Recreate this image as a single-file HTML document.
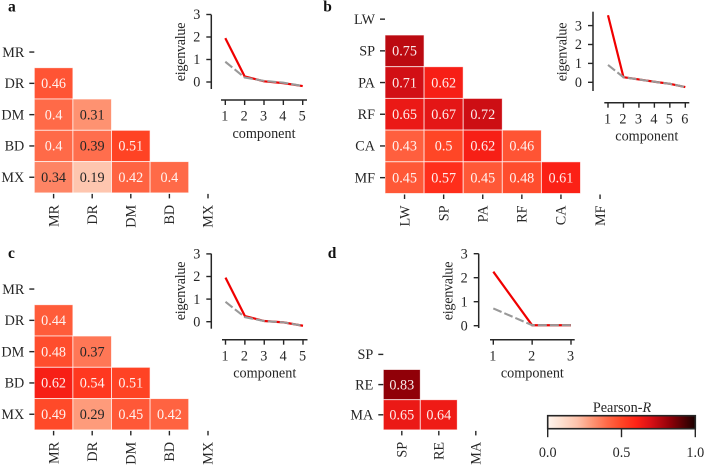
<!DOCTYPE html>
<html lang="en">
<head>
<meta charset="utf-8">
<title>Correlation matrices with eigenvalue plots</title>
<style>
html,body{margin:0;padding:0;background:#fff;}
svg{display:block;}
text{font-family:"Liberation Serif",serif;fill:#262626;font-size:14.2px;}
</style>
</head>
<body>
<svg id="chart" xmlns="http://www.w3.org/2000/svg" width="704" height="465" viewBox="0 0 704 465"></svg>
<script>
// Panel a
const labelsA = ["MR","DR","DM","BD","MX"];
const corrA = [[0.46],[0.4,0.31],[0.4,0.39,0.51],[0.34,0.19,0.42,0.4]];
const eigenA = [1.95,0.25,0.03,-0.05,-0.18];
const nullA = [0.9,0.2,0.05,-0.03,-0.18];
const yTicksA = [0,1,2,3];
// Panel b
const labelsB = ["LW","SP","PA","RF","CA","MF"];
const corrB = [[0.75],[0.71,0.62],[0.65,0.67,0.72],[0.43,0.5,0.62,0.46],[0.45,0.57,0.45,0.48,0.61]];
const eigenB = [3.55,0.27,0.15,0.03,-0.08,-0.25];
const nullB = [0.92,0.27,0.15,0.03,-0.08,-0.25];
const yTicksB = [0,1,2,3];
// Panel c
const labelsC = ["MR","DR","DM","BD","MX"];
const corrC = [[0.44],[0.48,0.37],[0.62,0.54,0.51],[0.49,0.29,0.45,0.42]];
const eigenC = [1.95,0.25,0.03,-0.03,-0.18];
const nullC = [0.88,0.2,0.03,-0.03,-0.18];
const yTicksC = [0,1,2,3];
// Panel d
const labelsD = ["SP","RE","MA"];
const corrD = [[0.83],[0.65,0.64]];
const eigenD = [2.25,0.02,0.02];
const nullD = [0.72,0.02,0.02];
const yTicksD = [0,1,2,3];
// Colour bar
const colorbarTicks = [0,0.5,1];
const colorbarTitle = "Pearson-";

const svg = document.getElementById('chart');
const NS = 'http://www.w3.org/2000/svg';
const INK = '#262626';

function make(tag, attrs, parent) {
  const el = document.createElementNS(NS, tag);
  for (const k in attrs) el.setAttribute(k, attrs[k]);
  (parent || svg).appendChild(el);
  return el;
}
function put(tag, attrs, text, name, parent) {
  const el = make(tag, attrs, parent);
  if (text !== undefined && text !== null) el.textContent = text;
  
  
  return el;
}
function group(name) {
  const g = make('g', {});
  
  
  return g;
}
const rampAt = [0,0.1,0.2,0.3,0.4,0.5,0.6,0.7,0.83,1];
const rampRGB = [[255,245,238],[254,222,205],[254,195,172],[254,150,118],[255,106,72],[255,70,38],[255,35,22],[216,16,22],[144,0,8],[26,0,0]];
function colour(v) {
  const t = Math.max(0, Math.min(1, v));
  let i = 0;
  while (i < rampAt.length - 2 && t > rampAt[i + 1]) i++;
  const f = (t - rampAt[i]) / (rampAt[i + 1] - rampAt[i]);
  const c = rampRGB[i].map((a, j) => Math.round(a + (rampRGB[i + 1][j] - a) * f));
  return 'rgb(' + c.join(',') + ')';
}
function drawHeatmap(id, labels, corr, box) {
  const g = group('heatmap-' + id);
  const xScale = i => box.left + box.cellW * i;
  const yScale = i => box.top + box.cellH * i;
  corr.forEach((row, r) => row.forEach((value, c) => {
    put('rect', {x: xScale(c), y: yScale(r), width: box.cellW, height: box.cellH, fill: colour(value), stroke: '#fff', 'stroke-opacity': 0.75, 'stroke-width': 0.9}, null, 'cell-' + id + '-' + labels[r + 1] + '-' + labels[c], g);
    put('text', {x: xScale(c) + box.cellW / 2, y: yScale(r) + box.cellH / 2 + 4.7, 'text-anchor': 'middle', style: 'fill:' + (value >= 0.4 ? '#fff' : INK) + ';fill-opacity:' + (value >= 0.4 ? 0.92 : 1)}, String(value), 'cell-value-' + id + '-' + labels[r + 1] + '-' + labels[c], g);
  }));
  labels.forEach((label, i) => {
    const cy = yScale(i - 1) + box.cellH / 2;
    const cx = xScale(i) + box.cellW / 2;
    put('line', {x1: box.left - 5, x2: box.left, y1: cy, y2: cy, stroke: INK, 'stroke-width': 1.4}, null, 'y-tick-' + id + '-' + label, g);
    put('text', {x: box.left - 10, y: cy + 4.7, 'text-anchor': 'end'}, label, 'y-label-' + id + '-' + label, g);
    const bottom = yScale(labels.length - 1);
    put('line', {x1: cx, x2: cx, y1: bottom + 1, y2: bottom + 5.5, stroke: INK, 'stroke-width': 1.4}, null, 'x-tick-' + id + '-' + label, g);
    const ty = bottom + 12;
    put('text', {x: cx + 4.7, y: ty, 'text-anchor': 'end', transform: 'rotate(-90 ' + (cx + 4.7) + ' ' + ty + ')'}, label, 'x-label-' + id + '-' + label, g);
  });
}
function drawScree(id, eigen, nulls, yTicks, box) {
  const g = group('eigenvalue-plot-' + id);
  const xScale = c => box.x1 + (box.xN - box.x1) * (c - 1) / (eigen.length - 1);
  const yScale = v => box.y0 - box.unit * v;
  put('line', {x1: box.axisX, x2: box.axisX, y1: box.axisTop, y2: box.axisBottom, stroke: INK, 'stroke-width': 1.5}, null, 'y-axis-' + id, g);
  yTicks.forEach(t => {
    put('line', {x1: box.axisX - 5, x2: box.axisX, y1: yScale(t), y2: yScale(t), stroke: INK, 'stroke-width': 1.4}, null, 'y-tick-' + id + '-' + t, g);
    put('text', {x: box.axisX - 11, y: yScale(t) + 4.7, 'text-anchor': 'end'}, String(t), 'y-tick-label-' + id + '-' + t, g);
  });
  put('text', {x: box.axisX - 26.3, y: box.titleY, 'text-anchor': 'middle', 'letter-spacing': -0.3, transform: 'rotate(-90 ' + (box.axisX - 26.3) + ' ' + box.titleY + ')'}, 'eigenvalue', 'y-axis-title-' + id, g);
  put('line', {x1: box.xStart, x2: box.xEnd, y1: box.axisY, y2: box.axisY, stroke: INK, 'stroke-width': 1.5}, null, 'x-axis-' + id, g);
  eigen.forEach((_, i) => {
    const c = i + 1;
    put('line', {x1: xScale(c), x2: xScale(c), y1: box.axisY, y2: box.axisY + 5, stroke: INK, 'stroke-width': 1.4}, null, 'x-tick-' + id + '-' + c, g);
    put('text', {x: xScale(c) - 0.5, y: box.axisY + 20.7, 'text-anchor': 'middle'}, String(c), 'x-tick-label-' + id + '-' + c, g);
  });
  put('text', {x: (box.xStart + box.xEnd) / 2, y: box.axisY + 38, 'text-anchor': 'middle'}, 'component', 'x-axis-title-' + id, g);
  const pts = arr => arr.map((v, i) => xScale(i + 1).toFixed(2) + ',' + yScale(v).toFixed(2)).join(' ');
  put('polyline', {points: pts(eigen), fill: 'none', stroke: '#f00000', 'stroke-width': 2.2}, null, 'eigenvalue-line-' + id, g);
  put('polyline', {points: pts(nulls), fill: 'none', stroke: '#999', 'stroke-width': 2.1, 'stroke-dasharray': '9 3'}, null, 'null-eigenvalue-line-' + id, g);
}
function drawColorbar() {
  const g = group('colorbar');
  const box = {x0: 547.7, x1: 695.3, top: 415.7, bottom: 428.7};
  const xScale = v => box.x0 + (box.x1 - box.x0) * v;
  const defs = make('defs', {}, g);
  const grad = make('linearGradient', {id: 'reds', x1: 0, x2: 1, y1: 0, y2: 0}, defs);
  rampAt.forEach((t) => make('stop', {offset: t, 'stop-color': colour(t)}, grad));
  put('rect', {x: box.x0, y: box.top, width: box.x1 - box.x0, height: box.bottom - box.top, fill: 'url(#reds)', stroke: INK, 'stroke-width': 1.6}, null, 'colorbar-ramp', g);
  colorbarTicks.forEach(t => {
    put('line', {x1: xScale(t), x2: xScale(t), y1: box.bottom, y2: box.bottom + 8.5, stroke: INK, 'stroke-width': 1.4}, null, 'colorbar-tick-' + t, g);
    put('text', {x: xScale(t), y: 457, 'text-anchor': 'middle'}, t.toFixed(1), 'colorbar-tick-label-' + t, g);
  });
  const title = put('text', {x: 622, y: 412, 'text-anchor': 'middle'}, colorbarTitle, 'colorbar-title', g);
  const r = make('tspan', {'font-style': 'italic'}, title);
  r.textContent = 'R';
}

const heatBoxA = {left: 34.3, top: 67.7, cellW: 38.6, cellH: 31.3};
const heatBoxB = {left: 385, top: 35, cellW: 39.1, cellH: 31.7};
const heatBoxC = {left: 34.3, top: 304.7, cellW: 38.6, cellH: 31.3};
const heatBoxD = {left: 383.3, top: 369.5, cellW: 37, cellH: 30.2};
drawHeatmap('a', labelsA, corrA, heatBoxA);
drawHeatmap('b', labelsB, corrB, heatBoxB);
drawHeatmap('c', labelsC, corrC, heatBoxC);
drawHeatmap('d', labelsD, corrD, heatBoxD);

drawScree('a', eigenA, nullA, yTicksA, {axisX: 211.3, axisTop: 14.7, axisBottom: 89, y0: 82, unit: 22.5, axisY: 100, xStart: 221, xEnd: 307, x1: 225.3, xN: 302.7, titleY: 52});
drawScree('b', eigenB, nullB, yTicksB, {axisX: 593, axisTop: 11.7, axisBottom: 91, y0: 82.3, unit: 18.9, axisY: 102.7, xStart: 604.3, xEnd: 689.3, x1: 608, xN: 685.3, titleY: 52});
drawScree('c', eigenC, nullC, yTicksC, {axisX: 211.3, axisTop: 253.7, axisBottom: 328.7, y0: 321.7, unit: 22.6, axisY: 339.7, xStart: 222, xEnd: 307.5, x1: 225.5, xN: 303, titleY: 291});
drawScree('d', eigenD, nullD, yTicksD, {axisX: 478.7, axisTop: 253.7, axisBottom: 328, y0: 325.7, unit: 24, axisY: 339.7, xStart: 490, xEnd: 574.7, x1: 493.3, xN: 571, titleY: 291});

drawColorbar();

const panelLetters = ['a','b','c','d'];
const letterX = [8,323.3,8,327.7];
const letterY = [11.5,11.5,258,258];
panelLetters.forEach((letter, i) => {
  put('text', {x: letterX[i], y: letterY[i], style: 'font-weight:bold;font-size:15.5px;fill:#111'}, letter, 'panel-label-' + letter);
});
</script>
</body>
</html>
